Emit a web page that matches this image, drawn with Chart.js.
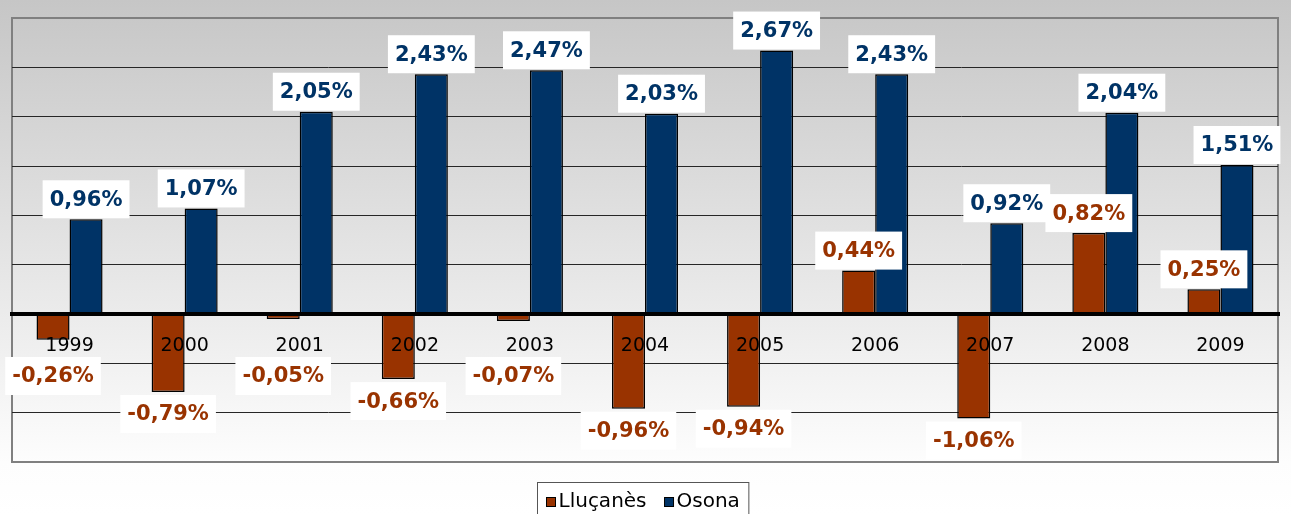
<!DOCTYPE html>
<html>
<head>
<meta charset="utf-8">
<script src="https://cdn.jsdelivr.net/npm/chart.js@4/dist/chart.umd.min.js"></script>
<style>
  html, body { margin: 0; padding: 0; background: #fff; }
  canvas { display: block; }
</style>
</head>
<body>
<canvas id="canvas" width="1291" height="514"></canvas>
<script>
var years = ['1999', '2000', '2001', '2002', '2003', '2004', '2005', '2006', '2007', '2008', '2009'];
var llucanes = [-0.26, -0.79, -0.05, -0.66, -0.07, -0.96, -0.94, 0.44, -1.06, 0.82, 0.25];
var osona = [0.96, 1.07, 2.05, 2.43, 2.47, 2.03, 2.67, 2.43, 0.92, 2.04, 1.51];
var seriesNames = ['Lluçanès', 'Osona'];
var seriesColors = ['#993300', '#003366'];
var yMin = -1.5, yMax = 3.0, yStep = 0.5;

function fmt(v) {
    return v.toFixed(2).replace('.', ',') + '%';
}

// background, plot frame, axis line, labels, legend
var decor = {
    id: 'decor',
    beforeDraw: function (chart) {
        var ctx = chart.ctx, a = chart.chartArea;
        var g = ctx.createLinearGradient(0, 0, 0, chart.height);
        g.addColorStop(0, '#c6c6c6');
        g.addColorStop(0.9, '#fdfdfd');
        g.addColorStop(1, '#ffffff');
        ctx.save();
        ctx.fillStyle = g;
        ctx.fillRect(0, 0, chart.width, chart.height);
        ctx.strokeStyle = '#808080';
        ctx.lineWidth = 2;
        ctx.strokeRect(a.left, a.top, a.right - a.left, a.bottom - a.top);
        ctx.restore();
    },
    afterDatasetsDraw: function (chart) {
        var ctx = chart.ctx, a = chart.chartArea;
        var y = chart.scales.y, x = chart.scales.x;
        var zeroY = y.getPixelForValue(0);
        ctx.save();
        // axis line
        ctx.strokeStyle = '#000';
        ctx.lineWidth = 4;
        ctx.beginPath();
        ctx.moveTo(a.left - 2, zeroY);
        ctx.lineTo(a.right + 2, zeroY);
        ctx.stroke();

        // category labels just under the axis
        ctx.font = '19px "DejaVu Sans"';
        ctx.fillStyle = '#000';
        ctx.textAlign = 'center';
        ctx.textBaseline = 'middle';
        for (var i = 0; i < years.length; i++) {
            ctx.fillText(years[i], x.getPixelForValue(i), zeroY + 32);
        }

        // value labels, Osona first so Lluçanès sits on top
        ctx.font = 'bold 21px "DejaVu Sans"';
        [1, 0].forEach(function (di) {
            var meta = chart.getDatasetMeta(di);
            var data = chart.data.datasets[di].data;
            meta.data.forEach(function (bar, i) {
                var v = data[i];
                var txt = fmt(v);
                var w = ctx.measureText(txt).width + 14;
                var h = 38;
                var top;
                if (v >= 0) {
                    top = bar.y - 1 - h;
                } else {
                    top = Math.max(bar.y + 3, zeroY + 43);
                }
                ctx.fillStyle = '#fff';
                ctx.fillRect(bar.x - w / 2, top, w, h);
                ctx.fillStyle = seriesColors[di];
                ctx.fillText(txt, bar.x, top + h / 2 + 1);
            });
        });
        ctx.restore();
    },
    afterDraw: function (chart) {
        var ctx = chart.ctx, a = chart.chartArea;
        var cx = (a.left + a.right) / 2;
        ctx.save();
        ctx.font = '20px "DejaVu Sans"';
        ctx.textBaseline = 'middle';
        ctx.textAlign = 'left';
        var sq = 9, gap = 3, between = 18, pad = 9;
        var widths = seriesNames.map(function (n) { return ctx.measureText(n).width; });
        var total = pad * 2 + widths[0] + widths[1] + 2 * (sq + gap) + between;
        var left = Math.round(cx - total / 2) - 2 + 0.5;
        var top = 482.5;
        ctx.fillStyle = '#fff';
        ctx.fillRect(left, top, total, 40);
        ctx.strokeStyle = '#555';
        ctx.lineWidth = 1;
        ctx.strokeRect(left, top, total, 40);
        var xx = left + pad, midY = 502;
        for (var i = 0; i < seriesNames.length; i++) {
            ctx.fillStyle = chart.data.datasets[i].backgroundColor;
            ctx.fillRect(xx, midY - sq / 2, sq, sq);
            ctx.strokeStyle = '#000';
            ctx.strokeRect(xx, midY - sq / 2, sq, sq);
            xx += sq + gap;
            ctx.fillStyle = '#000';
            ctx.fillText(seriesNames[i], xx, midY);
            xx += widths[i] + between;
        }
        ctx.restore();
    }
};

var ctx = document.getElementById('canvas').getContext('2d');
var chart = new Chart(ctx, {
    type: 'bar',
    data: {
        labels: years,
        datasets: [
            { label: seriesNames[0], data: llucanes, backgroundColor: seriesColors[0] },
            { label: seriesNames[1], data: osona, backgroundColor: seriesColors[1] }
        ]
    },
    options: {
        responsive: false,
        animation: false,
        devicePixelRatio: 1,
        layout: { padding: { left: 12, top: 18, right: 13, bottom: 52 } },
        datasets: {
            bar: {
                categoryPercentage: 0.574,
                barPercentage: 1.0,
                borderColor: '#000',
                borderWidth: 1.5,
                borderSkipped: false
            }
        },
        plugins: {
            legend: { display: false },
            tooltip: { enabled: false }
        },
        scales: {
            x: { display: false },
            y: {
                min: yMin,
                max: yMax,
                ticks: { display: false, stepSize: yStep },
                border: { display: false },
                grid: {
                    drawTicks: false,
                    lineWidth: 1,
                    color: function (c) {
                        var v = c.tick ? c.tick.value : 0;
                        if (v === 0 || v === yMin || v === yMax) return 'rgba(0,0,0,0)';
                        return '#262626';
                    }
                }
            }
        }
    },
    plugins: [decor]
});
</script>
</body>
</html>
